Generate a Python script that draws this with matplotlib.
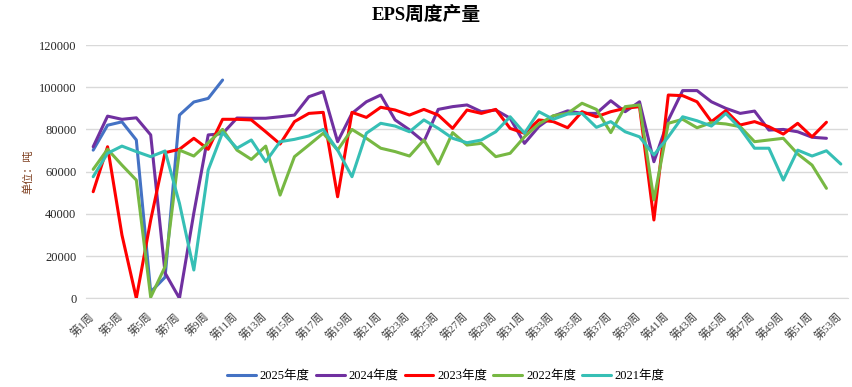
import numpy as np
import matplotlib
matplotlib.use('Agg')
import matplotlib.pyplot as plt
import matplotlib.transforms as mtrans

plt.rcParams['font.family'] = ['Liberation Serif', 'Noto Sans CJK SC', 'DejaVu Sans']

# weekly output, tonnes
weeks = list(range(1, 54))
tick_labels = ['第%d周' % w for w in weeks]

y2025 = [70200, 82000, 83600, 75000, 3000, 10000, 86800, 93000, 94700, 103400]

y2024 = [71800, 86300, 84800, 85500, 77400, 12000, 0, 40400, 77400, 78000,
         85400, 85300, 85300, 86000, 86800, 95500, 97900, 74200, 87600, 93100,
         96300, 84500, 79800, 74200, 89500, 90800, 91600, 88400, 89200, 85300,
         73400, 81400, 86300, 88800, 87600, 87600, 93600, 88400, 93100, 64700,
         84400, 98400, 98400, 93100, 90000, 87600, 88700, 79700, 80000, 78900,
         76300, 75800]

y2023 = [50500, 71800, 30000, 0, 37100, 69000, 70600, 75800, 70600, 84800,
         84800, 84500, 78900, 73100, 83700, 87600, 88100, 48100, 88100, 85700,
         90500, 89200, 86800, 89500, 86800, 80500, 89200, 87600, 89500, 80500,
         78200, 84500, 83700, 80800, 88400, 86000, 88400, 90000, 90800, 37100,
         96300, 96000, 93100, 83700, 88900, 82100, 83700, 81300, 77800, 82900,
         76500, 83400]

y2022 = [61100, 70600, 63100, 56000, 500, 15000, 70200, 67400, 73700, 80000,
         70200, 65800, 72100, 48900, 67100, 72600, 78200, 70200, 80000, 75800,
         71100, 69500, 67400, 75000, 63600, 78500, 72600, 73400, 67100, 68700,
         76500, 82600, 86500, 87600, 92400, 89500, 78500, 90800, 91600, 46600,
         82900, 84800, 80800, 83200, 82600, 81300, 74200, 75000, 75800, 68400,
         63100, 52100]

y2021 = [57600, 68700, 72100, 69500, 67100, 69800, 45000, 13400, 60800, 78500,
         71100, 75000, 64700, 74200, 75300, 76900, 80000, 70200, 57600, 78200,
         82900, 81600, 78900, 84500, 80500, 75800, 73700, 75000, 78900, 86000,
         78200, 88400, 84800, 87300, 87600, 81000, 83700, 78900, 76500, 67900,
         76500, 86000, 84100, 81600, 87600, 80500, 71100, 71100, 56000, 70200,
         67400, 69900, 63600]

series = [('2025年度', y2025, '#4472C4'),
          ('2024年度', y2024, '#7030A0'),
          ('2023年度', y2023, '#FF0000'),
          ('2022年度', y2022, '#77B843'),
          ('2021年度', y2021, '#36BFB5')]

fig = plt.figure(figsize=(8.53, 3.87), dpi=100)
ax = fig.add_axes([86 / 853, 1 - 298.3 / 387, (848 - 86) / 853, (298.3 - 45) / 387])

for i, (name, vals, col) in enumerate(series):
    ax.plot(weeks[:len(vals)], vals, color=col, lw=2.2, label=name,
            solid_joinstyle='round', solid_capstyle='round', zorder=3 + i)

ax.set_xlim(0.5, 53.5)
ax.set_ylim(0, 120000)
ax.set_yticks(range(0, 120001, 20000))
ax.tick_params(axis='y', length=0, labelsize=9, labelcolor='#262626', pad=7)
ax.set_xticks(weeks[::2])
ax.set_xticklabels(tick_labels[::2], rotation=45, ha='right', va='top',
                   rotation_mode='anchor', fontsize=8, color='#404040')
ax.tick_params(axis='x', length=0, pad=9)
shift = mtrans.ScaledTranslation(-5 / 100, 0, fig.dpi_scale_trans)
for lab in ax.get_xticklabels():
    lab.set_transform(lab.get_transform() + shift)
ax.grid(axis='y', color='#d9d9d9', lw=1)
ax.set_axisbelow(True)
for s in ['top', 'right', 'left']:
    ax.spines[s].set_visible(False)
ax.spines['bottom'].set_color('#d9d9d9')

ax.set_ylabel('单位：吨', fontsize=8, color='#7f3f1f', labelpad=4)

fig.text(0.5, 1 - 15 / 387, 'EPS周度产量', ha='center', va='center',
         fontsize=13.5, fontweight='bold', color='#000000')

fig.legend(loc='center', bbox_to_anchor=(446 / 853, 1 - 376 / 387), ncol=5,
           frameon=False, fontsize=9, handlelength=2.3, columnspacing=0.5,
           handletextpad=0.3)

fig.savefig('out.png', dpi=100)
